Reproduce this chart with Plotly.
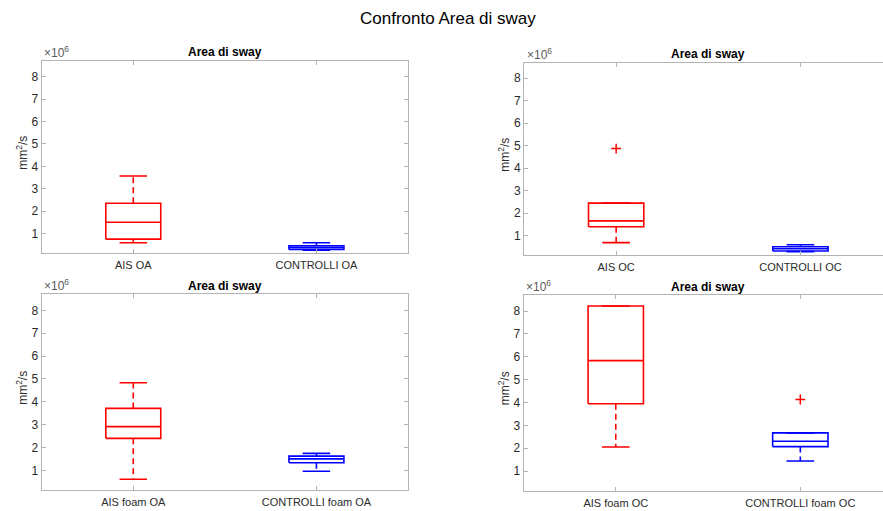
import plotly.graph_objects as go

# Summary statistics of sway area (mm^2/s) for each condition:
# lower whisker, first quartile, median, third quartile, upper whisker, outliers
SCALE = 1e6

titles = ["Area di sway", "Area di sway", "Area di sway", "Area di sway"]
categories_oa = ["AIS OA", "CONTROLLI OA"]
categories_oc = ["AIS OC", "CONTROLLI OC"]
categories_foam_oa = ["AIS foam OA", "CONTROLLI foam OA"]
categories_foam_oc = ["AIS foam OC", "CONTROLLI foam OC"]

# values in units of 10^6 mm^2/s : [low, q1, median, q3, high]
ais_oa = [0.60, 0.76, 1.51, 2.36, 3.57]
ctrl_oa = [0.26, 0.30, 0.39, 0.465, 0.60]
ais_oc = [0.68, 1.39, 1.65, 2.44, 2.44]
ctrl_oc = [0.28, 0.31, 0.41, 0.50, 0.59]
ais_foam_oa = [0.61, 2.40, 2.91, 3.71, 4.83]
ctrl_foam_oa = [0.96, 1.33, 1.50, 1.62, 1.74]
ais_foam_oc = [2.05, 3.94, 5.83, 8.22, 8.22]
ctrl_foam_oc = [1.44, 2.07, 2.30, 2.67, 2.67]

out_ais_oa, out_ctrl_oa = [], []
out_ais_oc, out_ctrl_oc = [4.87], []
out_ais_foam_oa, out_ctrl_foam_oa = [], []
out_ais_foam_oc, out_ctrl_foam_oc = [], [4.13]

y_ticks = [1, 2, 3, 4, 5, 6, 7, 8]
y_range = [0.14, 8.70]

W, H = 883, 511
FONT = "Liberation Sans, Arial, sans-serif"
AXIS_COL = "#b3b3b3"
TEXT_COL = "#2b2b2b"
RED, BLUE = "#ff0000", "#0000ff"
LW = 1.6
BOX_HALF, CAP_HALF = 0.15, 0.075

panels = [
    # (categories, [ais, ctrl], [ais outliers, ctrl outliers], px left, px right, px top, px bottom, x range max, full frame)
    (categories_oa, [ais_oa, ctrl_oa], [out_ais_oa, out_ctrl_oa], 41.7, 408.0, 61.0, 253.0, 2.5, True),
    (categories_oc, [ais_oc, ctrl_oc], [out_ais_oc, out_ctrl_oc], 524.0, 883.0, 62.5, 254.8, 2.448, False),
    (categories_foam_oa, [ais_foam_oa, ctrl_foam_oa], [out_ais_foam_oa, out_ctrl_foam_oa], 41.7, 408.0, 294.3, 490.0, 2.5, True),
    (categories_foam_oc, [ais_foam_oc, ctrl_foam_oc], [out_ais_foam_oc, out_ctrl_foam_oc], 523.5, 883.0, 295.0, 490.7, 2.448, False),
]

fig = go.Figure()
layout = dict(
    width=W, height=H,
    margin=dict(l=0, r=0, t=0, b=0),
    paper_bgcolor="white", plot_bgcolor="white",
    showlegend=False,
    font=dict(family=FONT, color=TEXT_COL, size=11),
)
annotations = []


def add_group(xa, ya, pos, stats, outliers, color):
    lo, q1, med, q3, hi = [v * SCALE for v in stats]
    line = dict(color=color, width=LW)
    common = dict(xaxis=xa, yaxis=ya, mode="lines", hoverinfo="skip")
    # box
    fig.add_trace(go.Scatter(
        x=[pos - BOX_HALF, pos + BOX_HALF, pos + BOX_HALF, pos - BOX_HALF, pos - BOX_HALF],
        y=[q1, q1, q3, q3, q1], line=line, **common))
    # median
    fig.add_trace(go.Scatter(x=[pos - BOX_HALF, pos + BOX_HALF], y=[med, med], line=line, **common))
    # whiskers (dashed) and caps
    for end, edge in ((hi, q3), (lo, q1)):
        if abs(end - edge) > 1e-9:
            fig.add_trace(go.Scatter(x=[pos, pos], y=[edge, end],
                                     line=dict(color=color, width=LW, dash="6px,4px"), **common))
        fig.add_trace(go.Scatter(x=[pos - CAP_HALF, pos + CAP_HALF], y=[end, end], line=line, **common))
    if outliers:
        fig.add_trace(go.Scatter(
            x=[pos] * len(outliers), y=[v * SCALE for v in outliers],
            mode="markers", xaxis=xa, yaxis=ya, hoverinfo="skip",
            marker=dict(symbol="cross-thin", size=7, line=dict(color=RED, width=1.5))))


for i, (cats, groups, outs, pl, pr, pt, pb, xmax, full) in enumerate(panels):
    n = "" if i == 0 else str(i + 1)
    xa, ya = "x" + n, "y" + n
    x0, x1 = pl / W, min(pr / W, 1.0)
    y0, y1 = 1 - pb / H, 1 - pt / H
    layout["xaxis" + n] = dict(
        domain=[x0, x1], range=[0.5, xmax], anchor=ya,
        tickvals=[1, 2], ticktext=cats,
        showline=True, linecolor=AXIS_COL, linewidth=1, mirror="ticks",
        ticks="inside", ticklen=4, tickcolor=AXIS_COL, tickwidth=1,
        ticklabelstandoff=2,
        showgrid=False, zeroline=False, fixedrange=True,
        tickfont=dict(family=FONT, size=11, color=TEXT_COL),
    )
    layout["yaxis" + n] = dict(
        domain=[y0, y1], range=[v * SCALE for v in y_range], anchor=xa,
        tickvals=[v * SCALE for v in y_ticks], ticktext=[str(v) for v in y_ticks],
        showline=True, linecolor=AXIS_COL, linewidth=1, mirror="ticks" if full else False,
        ticks="inside", ticklen=4, tickcolor=AXIS_COL, tickwidth=1,
        showgrid=False, zeroline=False, fixedrange=True,
        tickfont=dict(family=FONT, size=12, color=TEXT_COL),
    )
    for pos, (stats, ol, col) in enumerate(zip(groups, outs, (RED, BLUE)), start=1):
        add_group(xa, ya, pos, stats, ol, col)

    # subplot title centred over the full axes width (axes run to 2.5)
    full_right = pl + (pr - pl) * (2.0 / (xmax - 0.5))
    annotations.append(dict(
        text="<b>" + titles[i] + "</b>", xref="paper", yref="paper",
        x=((pl + full_right) / 2) / W, y=1 - (pt - 8.5) / H,
        xanchor="center", yanchor="middle", showarrow=False,
        font=dict(family=FONT, size=12, color="#000000")))
    # exponent label
    annotations.append(dict(
        text="\u00d710<sup>6</sup>", xref="paper", yref="paper",
        x=(pl + 0.5) / W, y=1 - (pt + 1) / H, xanchor="left", yanchor="bottom",
        showarrow=False, font=dict(family=FONT, size=12, color="#5a5a5a")))
    # y axis title
    annotations.append(dict(
        text="mm<sup>2</sup>/s", xref="paper", yref="paper",
        x=(pl - 20) / W, y=1 - ((pt + pb) / 2 - 4) / H, textangle=-90,
        xanchor="center", yanchor="middle", showarrow=False,
        font=dict(family=FONT, size=12, color=TEXT_COL)))

annotations.append(dict(
    text="Confronto Area di sway", xref="paper", yref="paper",
    x=448 / W, y=1 - 18 / H, xanchor="center", yanchor="middle", showarrow=False,
    font=dict(family=FONT, size=17, color="#000000")))

layout["annotations"] = annotations
fig.update_layout(**layout)
fig.write_html("out.html", config={"displayModeBar": False})
